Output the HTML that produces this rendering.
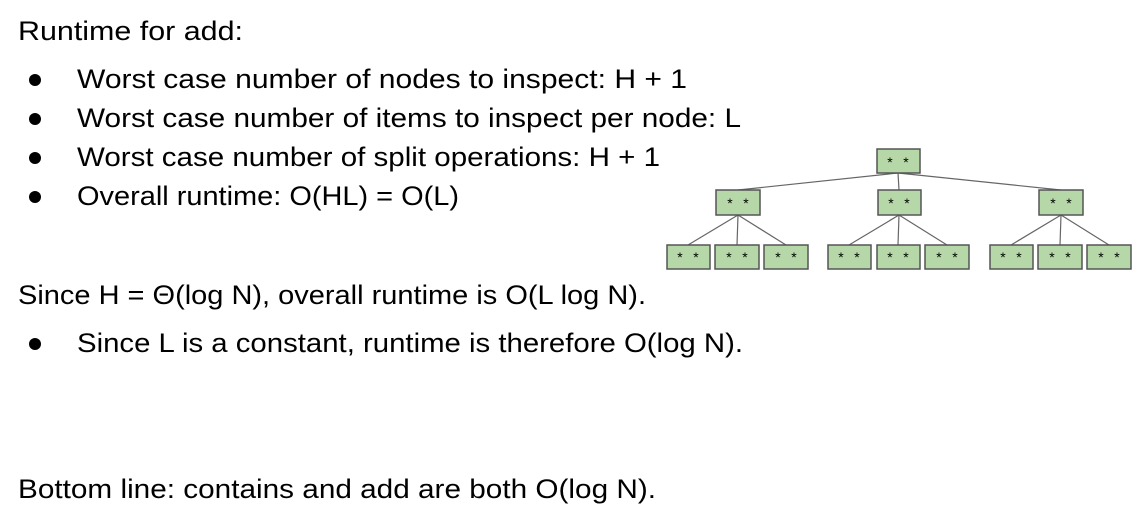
<!DOCTYPE html>
<html><head><style>
html,body{margin:0;padding:0;background:#fff;width:1142px;height:508px;overflow:hidden}
</style></head><body>
<svg width="1142" height="508" xmlns="http://www.w3.org/2000/svg" font-family="Liberation Sans, sans-serif" font-size="27" fill="#000">
<text x="18" y="40" textLength="225" lengthAdjust="spacingAndGlyphs">Runtime for add:</text>
<circle cx="35" cy="80" r="6"/><text x="77" y="88" textLength="610" lengthAdjust="spacingAndGlyphs">Worst case number of nodes to inspect: H + 1</text>
<circle cx="35" cy="119" r="6"/><text x="77" y="127" textLength="664" lengthAdjust="spacingAndGlyphs">Worst case number of items to inspect per node: L</text>
<circle cx="35" cy="158" r="6"/><text x="77" y="166" textLength="583" lengthAdjust="spacingAndGlyphs">Worst case number of split operations: H + 1</text>
<circle cx="35" cy="197" r="6"/><text x="77" y="205" textLength="382" lengthAdjust="spacingAndGlyphs">Overall runtime: O(HL) = O(L)</text>
<text x="18" y="304" textLength="628" lengthAdjust="spacingAndGlyphs">Since H = Θ(log N), overall runtime is O(L log N).</text>
<circle cx="35" cy="344" r="6"/><text x="77" y="352" textLength="666" lengthAdjust="spacingAndGlyphs">Since L is a constant, runtime is therefore O(log N).</text>
<text x="18" y="498" textLength="638" lengthAdjust="spacingAndGlyphs">Bottom line: contains and add are both O(log N).</text>
<g stroke="#666" stroke-width="1.2">
<line x1="898" y1="173" x2="738" y2="190"/><line x1="898" y1="173" x2="899" y2="190"/><line x1="898" y1="173" x2="1061" y2="190"/>
<line x1="738" y1="215" x2="688" y2="245"/><line x1="738" y1="215" x2="737" y2="245"/><line x1="738" y1="215" x2="786" y2="245"/>
<line x1="899" y1="215" x2="849" y2="245"/><line x1="899" y1="215" x2="898" y2="245"/><line x1="899" y1="215" x2="947" y2="245"/>
<line x1="1061" y1="215" x2="1011" y2="245"/><line x1="1061" y1="215" x2="1060" y2="245"/><line x1="1061" y1="215" x2="1109" y2="245"/>
</g>
<g fill="#b6d7a8" stroke="#555" stroke-width="1.5">
<rect x="877" y="149" width="43" height="24"/>
<rect x="716" y="190" width="44" height="25"/><rect x="878" y="190" width="43" height="25"/><rect x="1039" y="190" width="44" height="25"/>
<rect x="667" y="245" width="43" height="24"/><rect x="715" y="245" width="44" height="24"/><rect x="764" y="245" width="44" height="24"/>
<rect x="828" y="245" width="43" height="24"/><rect x="877" y="245" width="43" height="24"/><rect x="925" y="245" width="44" height="24"/>
<rect x="990" y="245" width="43" height="24"/><rect x="1038" y="245" width="44" height="24"/><rect x="1087" y="245" width="44" height="24"/>
</g>
<g font-size="14" text-anchor="middle">
<text x="890" y="167">*</text><text x="906" y="167">*</text>
<text x="730" y="208">*</text><text x="746" y="208">*</text>
<text x="891" y="208">*</text><text x="907" y="208">*</text>
<text x="1053" y="208">*</text><text x="1069" y="208">*</text>
<text x="680" y="262">*</text><text x="696" y="262">*</text>
<text x="729" y="262">*</text><text x="745" y="262">*</text>
<text x="778" y="262">*</text><text x="794" y="262">*</text>
<text x="841" y="262">*</text><text x="857" y="262">*</text>
<text x="890" y="262">*</text><text x="906" y="262">*</text>
<text x="939" y="262">*</text><text x="955" y="262">*</text>
<text x="1003" y="262">*</text><text x="1019" y="262">*</text>
<text x="1052" y="262">*</text><text x="1068" y="262">*</text>
<text x="1101" y="262">*</text><text x="1117" y="262">*</text>
</g>
</svg>
</body></html>
